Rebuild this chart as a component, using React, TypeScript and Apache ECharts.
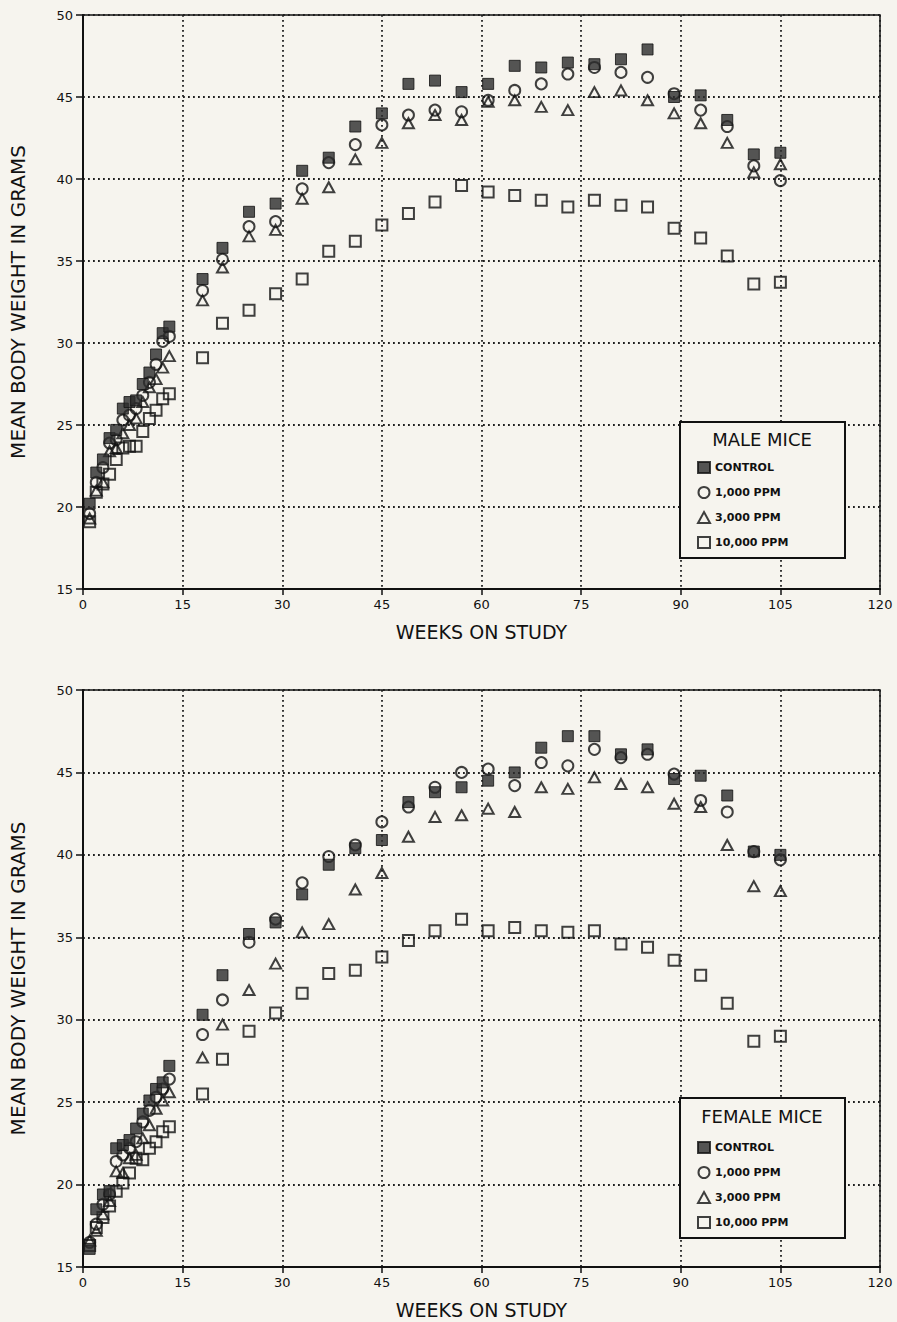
import React, { useEffect, useRef } from "react";
import * as echarts from "echarts";

const weeks = [1, 2, 3, 4, 5, 6, 7, 8, 9, 10, 11, 12, 13, 18, 21, 25, 29, 33, 37, 41, 45, 49, 53, 57, 61, 65, 69, 73, 77, 81, 85, 89, 93, 97, 101, 105];

const seriesNames = ["CONTROL", "1,000 PPM", "3,000 PPM", "10,000 PPM"];

const maleControl = [20.2, 22.1, 22.9, 24.2, 24.7, 26.0, 26.4, 26.5, 27.5, 28.2, 29.3, 30.6, 31.0, 33.9, 35.8, 38.0, 38.5, 40.5, 41.3, 43.2, 44.0, 45.8, 46.0, 45.3, 45.8, 46.9, 46.8, 47.1, 47.0, 47.3, 47.9, 45.0, 45.1, 43.6, 41.5, 41.6];
const male1000 = [19.6, 21.5, 22.4, 23.9, 24.1, 25.3, 25.6, 26.0, 26.8, 27.6, 28.7, 30.1, 30.4, 33.2, 35.1, 37.1, 37.4, 39.4, 41.0, 42.1, 43.3, 43.9, 44.2, 44.1, 44.8, 45.4, 45.8, 46.4, 46.8, 46.5, 46.2, 45.2, 44.2, 43.2, 40.8, 39.9];
const male3000 = [19.3, 21.0, 21.5, 23.4, 23.6, 24.5, 25.0, 25.4, 26.4, 27.3, 27.8, 28.5, 29.2, 32.6, 34.6, 36.5, 36.9, 38.8, 39.5, 41.2, 42.2, 43.4, 43.9, 43.6, 44.7, 44.8, 44.4, 44.2, 45.3, 45.4, 44.8, 44.0, 43.4, 42.2, 40.4, 40.9];
const male10000 = [19.1, 20.9, 21.4, 22.0, 22.9, 23.6, 23.7, 23.7, 24.6, 25.4, 25.9, 26.6, 26.9, 29.1, 31.2, 32.0, 33.0, 33.9, 35.6, 36.2, 37.2, 37.9, 38.6, 39.6, 39.2, 39.0, 38.7, 38.3, 38.7, 38.4, 38.3, 37.0, 36.4, 35.3, 33.6, 33.7];

const femaleControl = [16.1, 18.5, 19.4, 19.6, 22.2, 22.4, 22.7, 23.4, 24.3, 25.1, 25.8, 26.2, 27.2, 30.3, 32.7, 35.2, 35.9, 37.6, 39.4, 40.4, 40.9, 43.2, 43.8, 44.1, 44.5, 45.0, 46.5, 47.2, 47.2, 46.1, 46.4, 44.6, 44.8, 43.6, 40.2, 40.0];
const female1000 = [16.5, 17.6, 18.8, 19.4, 21.4, 21.8, 22.2, 22.6, 23.8, 24.5, 25.3, 25.8, 26.4, 29.1, 31.2, 34.7, 36.1, 38.3, 39.9, 40.6, 42.0, 42.9, 44.1, 45.0, 45.2, 44.2, 45.6, 45.4, 46.4, 45.9, 46.1, 44.9, 43.3, 42.6, 40.2, 39.7];
const female3000 = [16.6, 17.2, 18.2, 19.0, 20.8, 20.7, 21.6, 21.8, 22.8, 23.6, 24.6, 25.1, 25.6, 27.7, 29.7, 31.8, 33.4, 35.3, 35.8, 37.9, 38.9, 41.1, 42.3, 42.4, 42.8, 42.6, 44.1, 44.0, 44.7, 44.3, 44.1, 43.1, 42.9, 40.6, 38.1, 37.8];
const female10000 = [16.3, 17.4, 18.0, 18.7, 19.6, 20.1, 20.7, 21.6, 21.5, 22.2, 22.6, 23.2, 23.5, 25.5, 27.6, 29.3, 30.4, 31.6, 32.8, 33.0, 33.8, 34.8, 35.4, 36.1, 35.4, 35.6, 35.4, 35.3, 35.4, 34.6, 34.4, 33.6, 32.7, 31.0, 28.7, 29.0];

const xTicks = { min: 0, max: 120, interval: 15 };
const yTicks = { min: 15, max: 50, interval: 5 };

const BG = "#f6f4ee";
const INK = "#111111";
const FONT = "DejaVu Sans";

export default function App() {
  const ref = useRef<HTMLDivElement>(null);

  useEffect(() => {
    document.body.style.margin = "0";
    const chart = echarts.init(ref.current!, null, { renderer: "svg" });

    const pairs = (vals: number[]) => weeks.map((w, i) => [w, vals[i]]);

    const styles: Record<string, any> = {
      "CONTROL": { symbol: "rect", itemStyle: { color: "#2c2c2c", borderColor: INK, borderWidth: 1 } },
      "1,000 PPM": { symbol: "circle", itemStyle: { color: "rgba(0,0,0,0)", borderColor: INK, borderWidth: 2 } },
      "3,000 PPM": { symbol: "triangle", itemStyle: { color: "rgba(0,0,0,0)", borderColor: INK, borderWidth: 2 } },
      "10,000 PPM": { symbol: "rect", itemStyle: { color: "rgba(0,0,0,0)", borderColor: INK, borderWidth: 2 } },
    };
    const sizes: Record<string, any> = {
      "CONTROL": 11,
      "1,000 PPM": 11,
      "3,000 PPM": [11, 10],
      "10,000 PPM": 11,
    };

    const groups = [
      { idx: 0, data: { "CONTROL": maleControl, "1,000 PPM": male1000, "3,000 PPM": male3000, "10,000 PPM": male10000 } as Record<string, number[]> },
      { idx: 1, data: { "CONTROL": femaleControl, "1,000 PPM": female1000, "3,000 PPM": female3000, "10,000 PPM": female10000 } as Record<string, number[]> },
    ];

    const drawOrder = ["10,000 PPM", "3,000 PPM", "1,000 PPM", "CONTROL"];
    const series: any[] = [];
    groups.forEach((g) => {
      drawOrder.forEach((name, k) => {
        series.push({
          type: "scatter",
          name,
          xAxisIndex: g.idx,
          yAxisIndex: g.idx,
          data: pairs(g.data[name]),
          symbol: styles[name].symbol,
          symbolSize: sizes[name],
          itemStyle: styles[name].itemStyle,
          z: 2 + k,
          emphasis: { disabled: true },
        });
      });
    });

    const gridDots = { color: "#1e1e1e", width: 1.8, type: [1.8, 3.2] };

    const xAxis = (gi: number) => ({
      type: "value",
      gridIndex: gi,
      min: xTicks.min,
      max: xTicks.max,
      interval: xTicks.interval,
      name: "WEEKS ON STUDY",
      nameLocation: "middle",
      nameGap: 33,
      nameTextStyle: { fontFamily: FONT, fontSize: 19, color: INK },
      axisLine: { show: true, lineStyle: { color: INK, width: 2 } },
      axisTick: { show: true, inside: false, length: 6, lineStyle: { color: INK, width: 1.5 } },
      axisLabel: { fontFamily: FONT, fontSize: 13, color: INK, margin: 9 },
      splitLine: { show: true, lineStyle: gridDots },
    });
    const yAxis = (gi: number) => ({
      type: "value",
      gridIndex: gi,
      min: yTicks.min,
      max: yTicks.max,
      interval: yTicks.interval,
      name: "MEAN BODY WEIGHT IN GRAMS",
      nameLocation: "middle",
      nameGap: 55,
      nameTextStyle: { fontFamily: FONT, fontSize: 20, color: INK },
      axisLine: { show: true, lineStyle: { color: INK, width: 2 } },
      axisTick: { show: true, inside: false, length: 7, lineStyle: { color: INK, width: 1.5 } },
      axisLabel: { fontFamily: FONT, fontSize: 13, color: INK, margin: 10 },
      splitLine: { show: true, lineStyle: gridDots },
    });

    const legendCommon = {
      orient: "vertical",
      left: 692,
      itemWidth: 12,
      itemHeight: 11,
      itemGap: 12,
      selectedMode: false,
      data: seriesNames,
      textStyle: { fontFamily: FONT, fontSize: 11, fontWeight: "bold", color: INK },
      z: 20,
    };

    const legendBox = (top: number, h: number, title: string, titleY: number) => [
      {
        type: "rect",
        shape: { x: 680, y: top, width: 165, height: h },
        style: { fill: BG, stroke: INK, lineWidth: 2 },
        z: 10,
      },
      {
        type: "text",
        x: 762,
        y: titleY,
        style: { text: title, fontFamily: FONT, fontSize: 18, fill: INK, align: "center", verticalAlign: "middle" },
        z: 11,
      },
    ];

    chart.setOption({
      animation: false,
      backgroundColor: BG,
      grid: [
        { left: 83, top: 15, width: 797, height: 574, show: true, borderColor: INK, borderWidth: 1.5, backgroundColor: "transparent" },
        { left: 83, top: 690, width: 797, height: 577, show: true, borderColor: INK, borderWidth: 1.5, backgroundColor: "transparent" },
      ],
      xAxis: [xAxis(0), xAxis(1)],
      yAxis: [yAxis(0), yAxis(1)],
      legend: [
        { ...legendCommon, top: 456 },
        { ...legendCommon, top: 1136 },
      ],
      graphic: [
        ...legendBox(422, 136, "MALE MICE", 439),
        ...legendBox(1098, 140, "FEMALE MICE", 1116),
      ],
      series,
    });

    return () => chart.dispose();
  }, []);

  return <div ref={ref} style={{ width: 897, height: 1322, background: BG }} />;
}
